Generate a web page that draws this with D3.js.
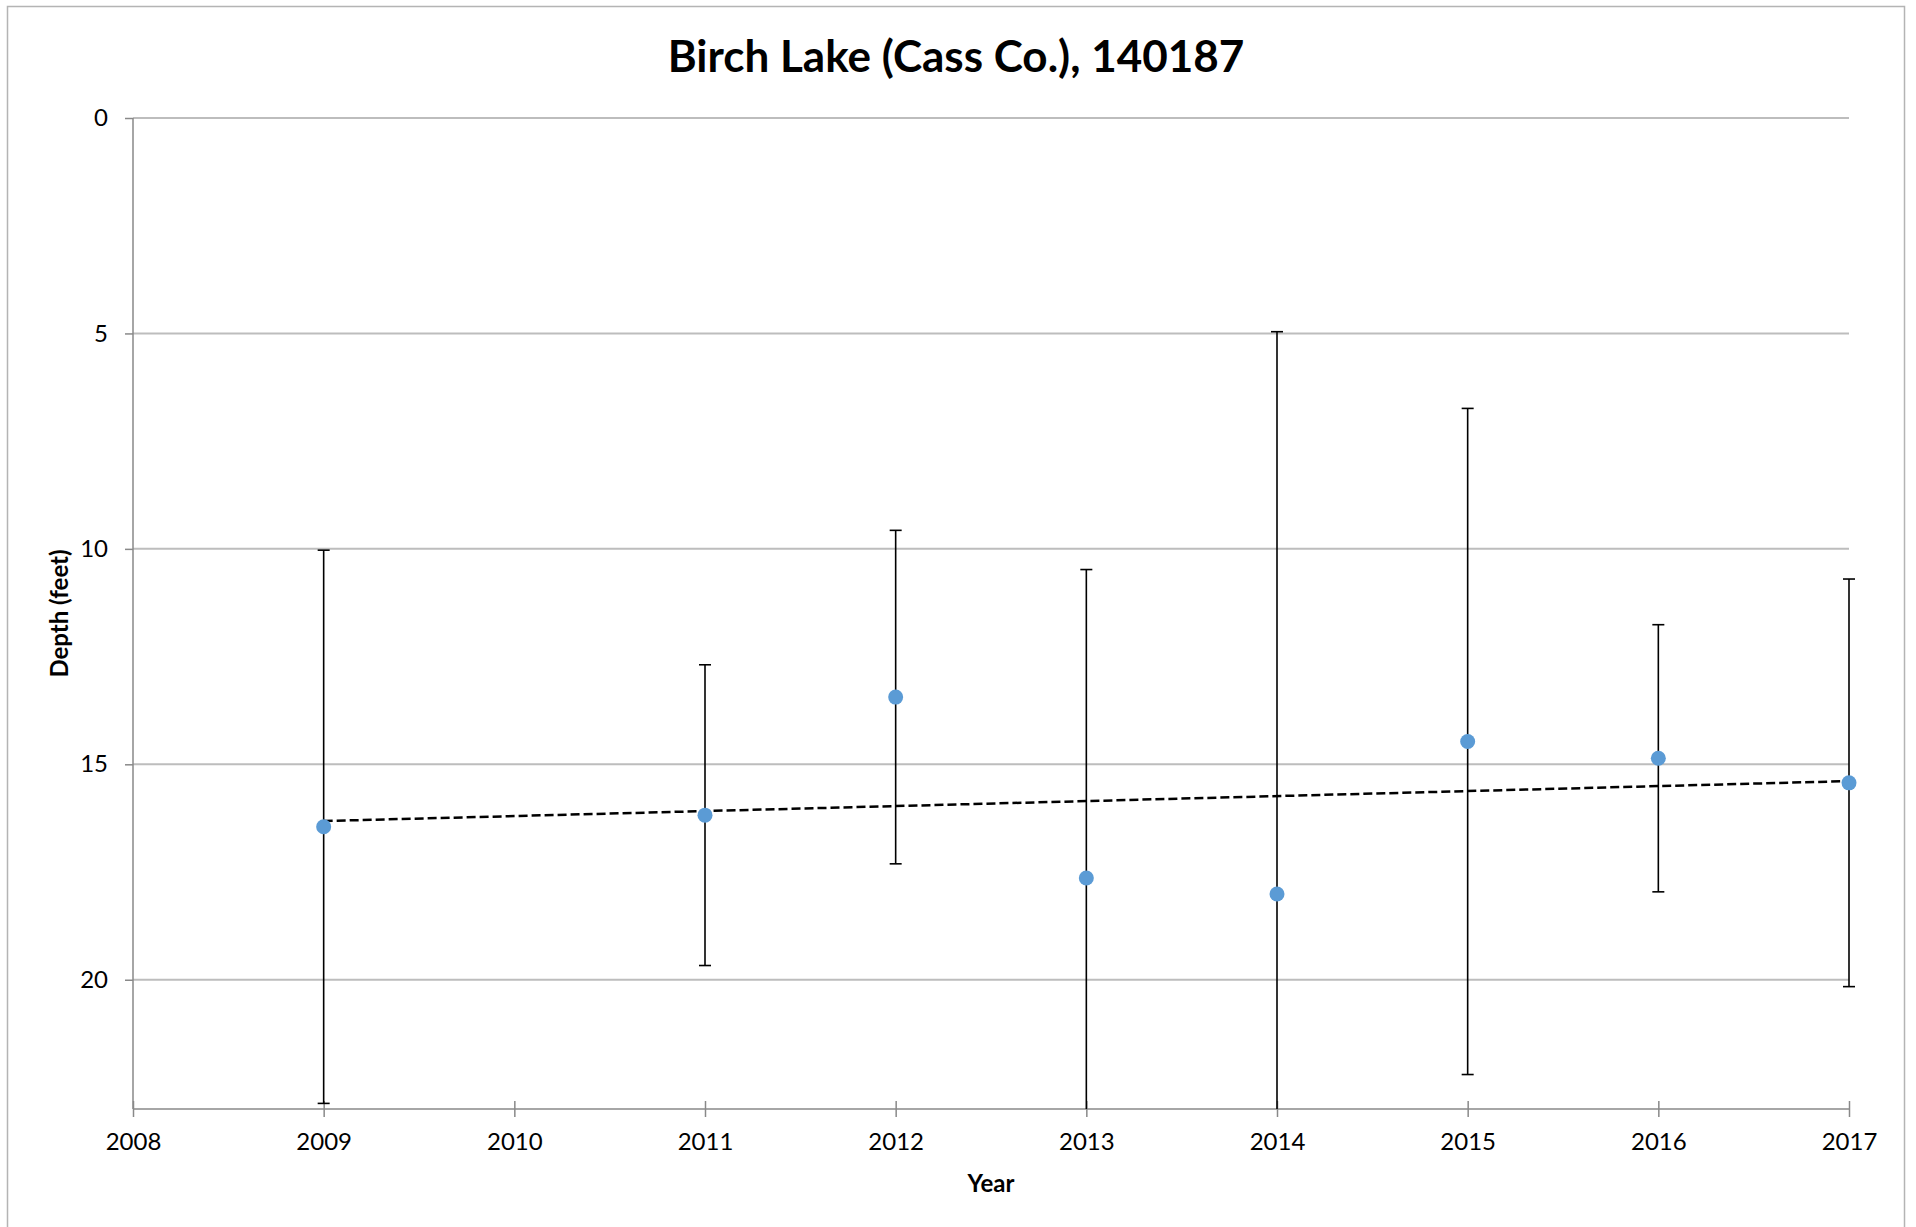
<!DOCTYPE html>
<html>
<head>
<meta charset="utf-8">
<script src="https://cdn.jsdelivr.net/npm/d3@7"></script>
<style>
  body { margin: 0; background: #fff; }
  text { font-family: Lato, "Open Sans", sans-serif; fill: #000; }
</style>
</head>
<body>
<svg id="chart" width="1916" height="1227"></svg>
<script>
// mean depth per year, with +/- one standard deviation
var years = [2009, 2011, 2012, 2013, 2014, 2015, 2016, 2017]
var depth = [16.45, 16.18, 13.44, 17.64, 18.01, 14.47, 14.86, 15.43]
var stdev = [6.42, 3.49, 3.87, 7.16, 13.05, 7.73, 3.10, 4.73]

var xTicks = [2008, 2009, 2010, 2011, 2012, 2013, 2014, 2015, 2016, 2017]
var yTicks = [0, 5, 10, 15, 20]

var title = 'Birch Lake (Cass Co.), 140187'

var svg = d3.select('#chart')

var pLeft = 133, pRight = 1849, pTop = 118, pBottom = 1109

var x = d3.scaleLinear().domain([2008, 2017]).range([pLeft, pRight])
var y = d3.scaleLinear().domain([0, 23]).range([pTop, pBottom])

var pts = years.map((yr, i) => ({ yr: yr, d: depth[i], sd: stdev[i] }))

// outer frame
svg.append('rect')
  .attr('x', 7.5).attr('y', 6.5)
  .attr('width', 1897).attr('height', 1240)
  .attr('fill', 'none')
  .attr('stroke', '#b4b4b4')
  .attr('stroke-width', 1.5)

svg.append('clipPath').attr('id', 'plot')
  .append('rect')
    .attr('x', pLeft - 10).attr('y', pTop)
    .attr('width', pRight - pLeft + 20).attr('height', pBottom - pTop)

// gridlines
svg.append('g').selectAll('line')
  .data(yTicks)
  .enter().append('line')
    .attr('x1', pLeft).attr('x2', pRight)
    .attr('y1', (d) => y(d)).attr('y2', (d) => y(d))
    .attr('stroke', '#bdbdbd')
    .attr('stroke-width', 2)

// y axis
var yAxis = svg.append('g')
  .attr('transform', 'translate(' + pLeft + ',0)')
  .call(d3.axisLeft(y).tickValues(yTicks).tickSize(8).tickPadding(17))
yAxis.select('.domain').attr('stroke', '#898989').attr('stroke-width', 1.5).attr('d', 'M0,' + pTop + 'V' + pBottom)
yAxis.selectAll('.tick line').attr('stroke', '#898989').attr('stroke-width', 1.5)
yAxis.selectAll('.tick text').attr('font-size', 24).attr('font-family', 'Lato, sans-serif').attr('fill', '#000')

// x axis
var xAxis = svg.append('g')
  .attr('transform', 'translate(0,' + pBottom + ')')
  .call(d3.axisBottom(x).tickValues(xTicks).tickFormat(d3.format('d')).tickSize(8).tickPadding(16))
xAxis.select('.domain').attr('stroke', '#898989').attr('stroke-width', 1.5).attr('d', 'M' + pLeft + ',0H' + pRight)
xAxis.selectAll('.tick line').attr('stroke', '#898989').attr('stroke-width', 1.5).attr('y1', -8)
xAxis.selectAll('.tick text').attr('font-size', 24).attr('font-family', 'Lato, sans-serif').attr('fill', '#000')

// error bars
var eb = svg.append('g').attr('clip-path', 'url(#plot)')
eb.selectAll('line.bar')
  .data(pts)
  .enter().append('line')
    .attr('class', 'bar')
    .attr('x1', (d) => x(d.yr)).attr('x2', (d) => x(d.yr))
    .attr('y1', (d) => y(d.d - d.sd)).attr('y2', (d) => y(d.d + d.sd))
    .attr('stroke', '#000')
    .attr('stroke-width', 1.6)

eb.selectAll('line.cap')
  .data(pts.flatMap((d) => [{ yr: d.yr, v: d.d - d.sd }, { yr: d.yr, v: d.d + d.sd }]))
  .enter().append('line')
    .attr('class', 'cap')
    .attr('x1', (d) => x(d.yr) - 6).attr('x2', (d) => x(d.yr) + 6)
    .attr('y1', (d) => y(d.v)).attr('y2', (d) => y(d.v))
    .attr('stroke', '#000')
    .attr('stroke-width', 1.6)

// linear trend
var mx = d3.mean(years), my = d3.mean(depth)
var slope = d3.sum(years, (v, i) => (v - mx) * (depth[i] - my)) / d3.sum(years, (v) => (v - mx) * (v - mx))
var ends = [years[0], years[years.length - 1]]
svg.append('line')
  .attr('x1', x(ends[0])).attr('x2', x(ends[1]))
  .attr('y1', y(my + slope * (ends[0] - mx))).attr('y2', y(my + slope * (ends[1] - mx)))
  .attr('stroke', '#000')
  .attr('stroke-width', 2.5)
  .attr('stroke-dasharray', '9,4')

// points
svg.append('g').selectAll('circle')
  .data(pts)
  .enter().append('circle')
    .attr('cx', (d) => x(d.yr))
    .attr('cy', (d) => y(d.d))
    .attr('r', 7.5)
    .attr('fill', '#5b9bd5')

// titles
svg.append('text')
  .attr('x', 956).attr('y', 72)
  .attr('text-anchor', 'middle')
  .attr('font-size', 44)
  .attr('font-weight', 'bold')
  .text(title)

svg.append('text')
  .attr('x', (pLeft + pRight) / 2).attr('y', 1192)
  .attr('text-anchor', 'middle')
  .attr('font-size', 24)
  .attr('font-weight', 'bold')
  .text('Year')

svg.append('text')
  .attr('transform', 'translate(68,' + (pTop + pBottom) / 2 + ') rotate(-90)')
  .attr('text-anchor', 'middle')
  .attr('font-size', 24)
  .attr('font-weight', 'bold')
  .text('Depth (feet)')
</script>
</body>
</html>
